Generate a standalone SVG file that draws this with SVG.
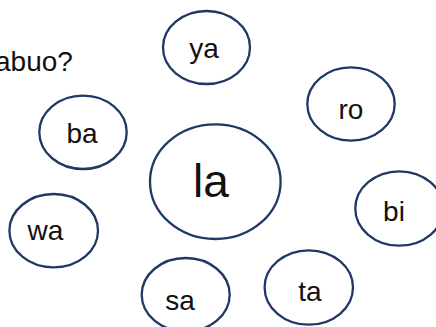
<svg xmlns="http://www.w3.org/2000/svg" width="436" height="327" viewBox="0 0 436 327">
<style>
.n ellipse{fill:#fff;stroke:#1f3864;stroke-width:2.3}
.n text{font-family:"Liberation Sans",Arial,sans-serif;font-size:28px;fill:#111;text-anchor:middle}
.q{font-family:"Liberation Sans",Arial,sans-serif;font-size:28px;fill:#111}
</style>
<rect width="436" height="327" fill="#fff"/>
<text class="q" x="-5" y="71">abuo?</text>
<g id="connectors"></g>
<g id="ya" class="n"><ellipse cx="206.5" cy="47.5" rx="43.5" ry="36.5"/><text x="204" y="58">ya</text></g>
<g id="ro" class="n"><ellipse cx="351" cy="104" rx="43.7" ry="36.7"/><text x="351" y="119">ro</text></g>
<g id="ba" class="n"><ellipse cx="83" cy="132.3" rx="43.7" ry="36.7"/><text x="82" y="143">ba</text></g>
<g id="la" class="n"><ellipse cx="215.3" cy="181.7" rx="65.3" ry="57.3"/><text x="211" y="197" style="font-size:46px">la</text></g>
<g id="wa" class="n"><ellipse cx="53.7" cy="230.7" rx="44.3" ry="36.7"/><text x="45.5" y="240">wa</text></g>
<g id="bi" class="n"><ellipse cx="399.3" cy="208.5" rx="44" ry="37.2"/><text x="394" y="221">bi</text></g>
<g id="sa" class="n"><ellipse cx="185.7" cy="294.7" rx="44" ry="36.7"/><text x="180" y="310">sa</text></g>
<g id="ta" class="n"><ellipse cx="308.8" cy="287.5" rx="44.2" ry="37.2"/><text x="310" y="301">ta</text></g>
</svg>
